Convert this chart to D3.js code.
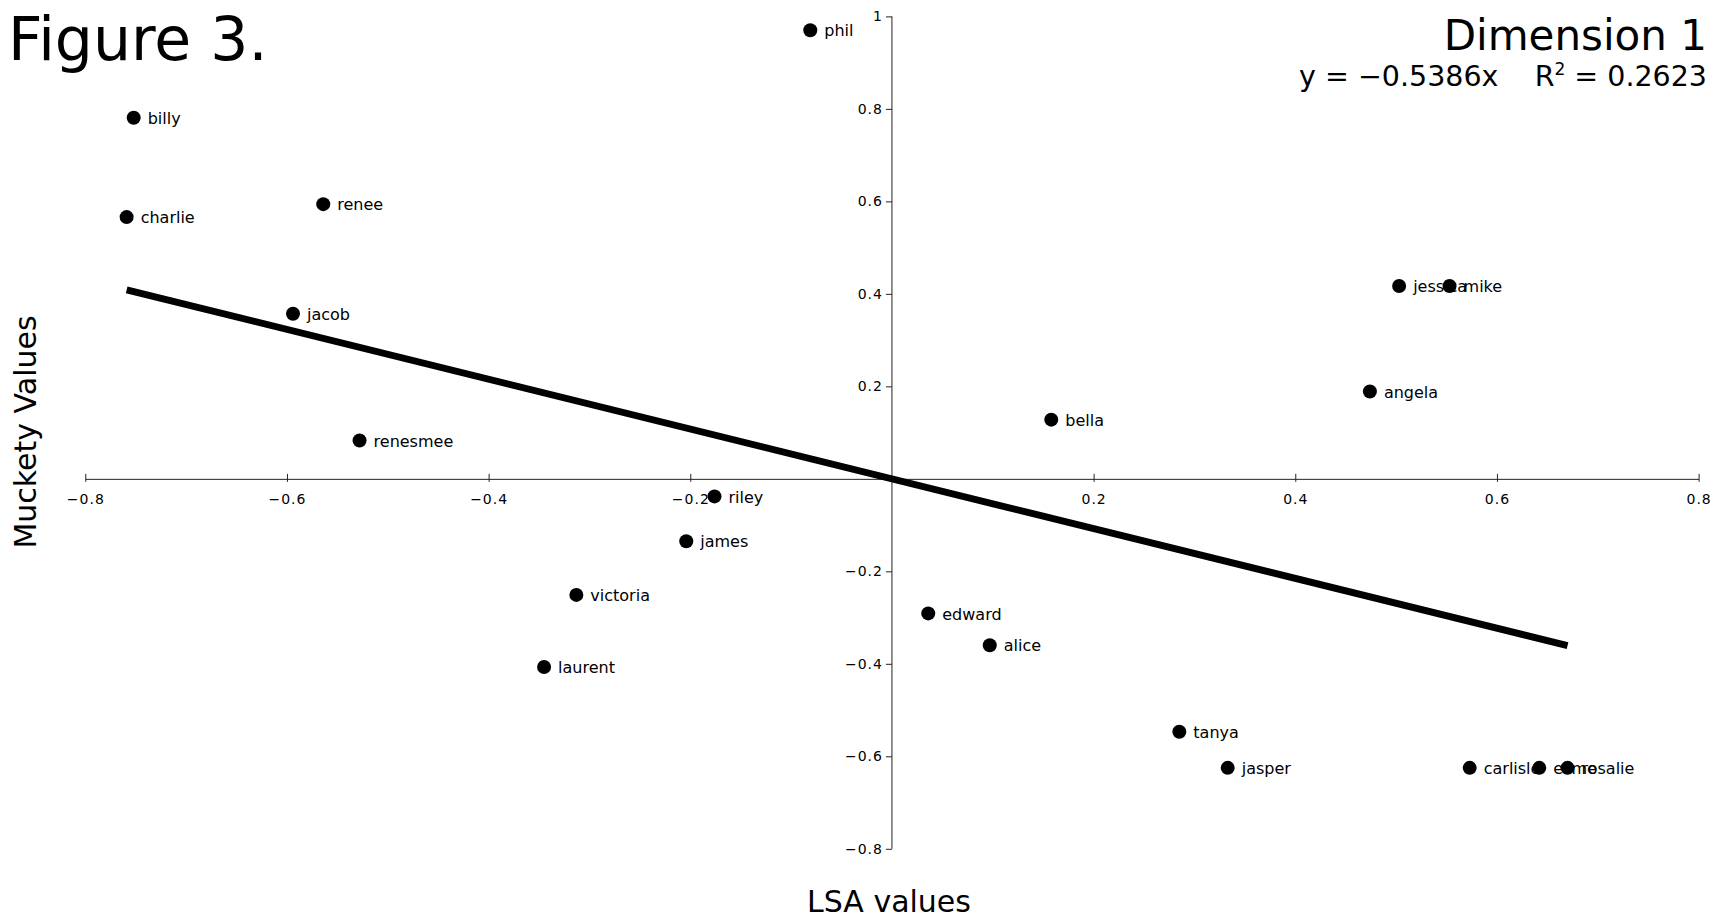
<!DOCTYPE html>
<html>
<head>
<meta charset="utf-8">
<script src="https://cdn.jsdelivr.net/npm/d3@7"></script>
<style>
  body { margin: 0; background: #fff; }
  text { font-family: "DejaVu Sans", sans-serif; fill: #000; }
</style>
</head>
<body>
<div id="chart"></div>
<script>
// names and their (LSA, Muckety) values
var names = ["phil", "billy", "charlie", "renee", "jacob", "renesmee", "riley", "james",
  "victoria", "laurent", "edward", "alice", "bella", "tanya", "jasper", "carlisle",
  "esme", "rosalie", "jessica", "mike", "angela"];
var lsaValues = [-0.081, -0.752, -0.759, -0.564, -0.594, -0.528, -0.176, -0.204,
  -0.313, -0.345, 0.036, 0.097, 0.158, 0.285, 0.333, 0.573,
  0.642, 0.670, 0.503, 0.553, 0.474];
var mucketyValues = [0.970, 0.781, 0.566, 0.594, 0.357, 0.083, -0.038, -0.135,
  -0.251, -0.407, -0.291, -0.360, 0.128, -0.547, -0.625, -0.625,
  -0.625, -0.625, 0.417, 0.417, 0.189];
var xTicks = [-0.8, -0.6, -0.4, -0.2, 0.2, 0.4, 0.6, 0.8];
var yTicks = [-0.8, -0.6, -0.4, -0.2, 0.2, 0.4, 0.6, 0.8, 1];
var slope = -0.5386;

var data = names.map(function(n, i) {
  return {name: n, x: lsaValues[i], y: mucketyValues[i]};
});

var width = 1715, height = 919;

var svg = d3.select("#chart").append("svg")
  .attr("width", width)
  .attr("height", height);

var x = d3.scaleLinear().domain([-0.8, 0.8]).range([85.3, 1698.6]);
var y = d3.scaleLinear().domain([-0.8, 1]).range([848.8, 16.4]);

var fmt = function(d) { return d3.format("")(d).replace("-", "\u2013"); };

// x axis through y = 0
var gx = svg.append("g")
  .attr("class", "xAxis")
  .attr("transform", "translate(0," + y(0) + ")")
  .call(d3.axisBottom(x).tickValues(xTicks).tickSize(0).tickPadding(15).tickFormat(fmt));
gx.select(".domain").attr("stroke", "#222");
gx.selectAll(".tick text").style("font-size", "14px").style("letter-spacing", "1px");
gx.selectAll(".tick").append("line")
  .attr("y1", -5).attr("y2", 3).attr("stroke", "#222");

// y axis through x = 0
var gy = svg.append("g")
  .attr("class", "yAxis")
  .attr("transform", "translate(" + x(0) + ",0)")
  .call(d3.axisLeft(y).tickValues(yTicks).tickSize(6).tickPadding(3).tickFormat(fmt));
gy.select(".domain").attr("stroke", "#222").attr("d", "M0," + y(1) + "V" + y(-0.8));
gy.selectAll(".tick line").attr("stroke", "#222");
gy.selectAll(".tick text").style("font-size", "14px").style("letter-spacing", "1px");

// regression line over the x range of the points
var xExt = d3.extent(data, function(d) { return d.x; });
svg.append("line")
  .attr("x1", x(xExt[0])).attr("y1", y(slope * xExt[0]))
  .attr("x2", x(xExt[1])).attr("y2", y(slope * xExt[1]))
  .attr("stroke", "#000")
  .attr("stroke-width", 7);

var pts = svg.selectAll(".pt")
  .data(data)
  .enter().append("g")
  .attr("class", "pt")
  .attr("transform", function(d) { return "translate(" + x(d.x) + "," + y(d.y) + ")"; });

pts.append("circle")
  .attr("r", 7)
  .attr("fill", "#000");

pts.append("text")
  .attr("x", 14)
  .attr("dy", "0.38em")
  .style("font-size", "16px")
  .text(function(d) { return d.name; });

// titles
svg.append("text")
  .attr("x", 8).attr("y", 60)
  .style("font-size", "60px")
  .text("Figure 3.");

svg.append("text")
  .attr("x", 1707).attr("y", 50)
  .attr("text-anchor", "end")
  .style("font-size", "42px")
  .text("Dimension 1");

var eq = svg.append("text")
  .attr("x", 1707).attr("y", 86)
  .attr("text-anchor", "end")
  .attr("xml:space", "preserve")
  .style("white-space", "pre")
  .style("font-size", "28.5px");
eq.append("tspan").text("y = \u22120.5386x    R");
eq.append("tspan").attr("dy", -11).style("font-size", "17px").text("2");
eq.append("tspan").attr("dy", 11).text(" = 0.2623");

svg.append("text")
  .attr("x", 889).attr("y", 912)
  .attr("text-anchor", "middle")
  .style("font-size", "30px")
  .text("LSA values");

svg.append("text")
  .attr("transform", "translate(36," + 432 + ") rotate(-90)")
  .attr("text-anchor", "middle")
  .style("font-size", "30px")
  .text("Muckety Values");
</script>
</body>
</html>
